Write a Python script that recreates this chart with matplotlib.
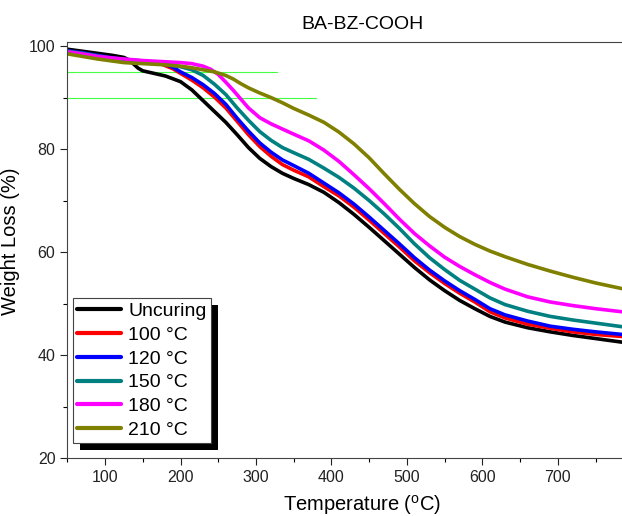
import matplotlib
matplotlib.use('Agg')
import matplotlib.pyplot as plt
from matplotlib.patches import Rectangle
from matplotlib.ticker import MultipleLocator

plt.rcParams['font.family'] = ['Liberation Sans', 'DejaVu Sans']
plt.rcParams['mathtext.fontset'] = 'custom'
plt.rcParams['mathtext.rm'] = 'Liberation Sans'
plt.rcParams['mathtext.it'] = 'Liberation Sans'

# data (temperature in C, weight in %)
T_unc = [50, 70, 90, 110, 125, 132, 138, 144, 150, 165, 180, 200, 215, 230, 245, 260, 275, 290, 305, 320, 335, 350, 370, 390, 410, 430, 450, 470, 490, 510, 530, 550, 570, 590, 610, 630, 660, 690, 720, 750, 785]
W_unc = [99.4, 99.0, 98.6, 98.2, 97.8, 97.3, 96.5, 95.7, 95.2, 94.7, 94.2, 93.1, 91.5, 89.4, 87.3, 85.2, 82.8, 80.3, 78.2, 76.6, 75.3, 74.3, 73.1, 71.6, 69.6, 67.3, 64.8, 62.2, 59.6, 57.0, 54.6, 52.5, 50.6, 49.0, 47.5, 46.4, 45.3, 44.5, 43.8, 43.2, 42.5]

T_100 = [50, 70, 90, 110, 125, 150, 175, 190, 200, 215, 230, 245, 260, 275, 290, 305, 320, 335, 350, 370, 390, 410, 430, 450, 470, 490, 510, 530, 550, 570, 590, 610, 630, 660, 690, 720, 750, 785]
W_100 = [99.0, 98.6, 98.1, 97.6, 97.3, 97.0, 96.5, 95.6, 94.7, 93.4, 91.9, 90.1, 88.0, 85.4, 82.8, 80.5, 78.6, 77.0, 75.9, 74.6, 72.7, 70.9, 68.7, 66.2, 63.6, 61.0, 58.3, 56.0, 53.9, 52.0, 50.3, 48.4, 47.2, 46.0, 45.2, 44.5, 44.0, 43.6]

T_120 = [50, 70, 90, 110, 125, 150, 175, 190, 200, 215, 230, 245, 260, 275, 290, 305, 320, 335, 350, 370, 390, 410, 430, 450, 470, 490, 510, 530, 550, 570, 590, 610, 630, 660, 690, 720, 750, 785]
W_120 = [99.1, 98.7, 98.2, 97.7, 97.4, 97.1, 96.7, 95.9, 95.0, 93.9, 92.5, 90.8, 88.7, 86.0, 83.5, 81.2, 79.4, 77.9, 76.8, 75.3, 73.4, 71.5, 69.3, 66.8, 64.2, 61.6, 58.9, 56.5, 54.4, 52.5, 50.8, 49.0, 47.8, 46.6, 45.6, 45.0, 44.5, 44.0]

T_150 = [50, 70, 90, 110, 125, 150, 175, 200, 215, 230, 245, 260, 275, 290, 305, 320, 335, 350, 370, 390, 410, 430, 450, 470, 490, 510, 530, 550, 570, 590, 610, 630, 660, 690, 720, 750, 785]
W_150 = [99.0, 98.6, 98.1, 97.6, 97.4, 97.1, 96.7, 96.0, 95.4, 94.3, 92.6, 90.6, 88.0, 85.6, 83.4, 81.7, 80.3, 79.3, 78.0, 76.3, 74.5, 72.4, 70.0, 67.4, 64.6, 61.6, 58.9, 56.6, 54.5, 52.8, 51.1, 49.8, 48.5, 47.5, 46.8, 46.2, 45.5]

T_180 = [50, 70, 90, 110, 125, 150, 175, 200, 215, 230, 240, 250, 260, 270, 280, 290, 305, 320, 335, 350, 370, 390, 410, 430, 450, 470, 490, 510, 530, 550, 570, 590, 610, 630, 660, 690, 720, 750, 785]
W_180 = [98.9, 98.5, 98.0, 97.7, 97.5, 97.2, 97.0, 96.8, 96.6, 96.1, 95.5, 94.5, 93.0, 91.4, 89.7, 88.0, 86.1, 84.9, 83.9, 82.9, 81.6, 79.8, 77.6, 75.0, 72.3, 69.4, 66.4, 63.6, 61.2, 59.0, 57.2, 55.6, 54.1, 52.8, 51.3, 50.3, 49.6, 49.0, 48.4]

T_210 = [50, 70, 90, 110, 125, 150, 175, 200, 215, 230, 245, 260, 270, 280, 290, 305, 320, 335, 350, 370, 390, 410, 430, 450, 470, 490, 510, 530, 550, 570, 590, 610, 630, 660, 690, 720, 750, 785]
W_210 = [98.5, 98.0, 97.5, 97.1, 96.8, 96.6, 96.4, 96.1, 95.8, 95.4, 95.0, 94.3, 93.6, 92.7, 91.9, 90.9, 90.0, 89.0, 87.9, 86.6, 85.2, 83.3, 81.0, 78.3, 75.2, 72.2, 69.4, 66.9, 64.8, 63.0, 61.5, 60.2, 59.1, 57.6, 56.3, 55.1, 54.0, 52.9]

series = [
    (T_unc, W_unc, 'Uncuring', 'black'),
    (T_100, W_100, '100 \u00b0C', 'red'),
    (T_120, W_120, '120 \u00b0C', 'blue'),
    (T_150, W_150, '150 \u00b0C', '#008080'),
    (T_180, W_180, '180 \u00b0C', 'magenta'),
    (T_210, W_210, '210 \u00b0C', '#808000'),
]

# green guide lines at 5 % and 10 % loss
guide_y = [95, 90]
guide_x_end = [328, 380]

fig = plt.figure(figsize=(6.22, 5.16), dpi=100)
ax = fig.add_axes([67.3 / 622, 1 - 458 / 516, (622 - 67.3) / 622, 416 / 516])

for y, xe in zip(guide_y, guide_x_end):
    ax.plot([50, xe], [y, y], color='#44ff44', lw=0.8, zorder=1)

for T, W, lab, c in series:
    ax.plot(T, W, color=c, lw=2.6, label=lab, solid_capstyle='round',
            solid_joinstyle='round', zorder=2)

ax.set_xlim(50, 785)
ax.set_ylim(20, 100.8)
ax.xaxis.set_major_locator(MultipleLocator(100))
ax.xaxis.set_minor_locator(MultipleLocator(50))
ax.yaxis.set_major_locator(MultipleLocator(20))
ax.yaxis.set_minor_locator(MultipleLocator(10))
ax.tick_params(which='major', direction='out', length=5, width=0.8, labelsize=11.5, colors='#222222')
ax.tick_params(which='minor', direction='out', length=3, width=0.8)
ax.spines['right'].set_visible(False)
for s in ['left', 'bottom', 'top']:
    ax.spines[s].set_linewidth(0.8)
    ax.spines[s].set_color('#444444')

ax.set_xlabel(r'Temperature ($^{\mathrm{o}}$C)', fontsize=14.5, labelpad=2)
ax.xaxis.set_label_coords(0.532, -0.085)
ax.set_ylabel('Weight Loss (%)', fontsize=14.5)
ax.yaxis.set_label_coords(-0.085, 0.52)
fig.text(0.582, 0.952, 'BA-BZ-COOH', fontsize=14, ha='center', va='center')

leg = ax.legend(loc='lower left', bbox_to_anchor=(0.01, 0.036), borderaxespad=0,
                fontsize=14, frameon=True, fancybox=False, framealpha=1,
                edgecolor='#444444', handlelength=2.3, handletextpad=0.35,
                labelspacing=0.32, borderpad=0.2)
leg.get_frame().set_linewidth(0.8)
for h in leg.get_lines():
    h.set_linewidth(3)

# black drop shadow behind the legend box
fig.canvas.draw()
bb = leg.get_window_extent().transformed(fig.transFigure.inverted())
shadow = Rectangle((bb.x0 + 7 / 622, bb.y0 - 7 / 516), bb.width, bb.height,
                   transform=fig.transFigure, facecolor='black', edgecolor='none',
                   zorder=4.5, clip_on=False)
ax.add_patch(shadow)

fig.savefig('out.png', dpi=100)
